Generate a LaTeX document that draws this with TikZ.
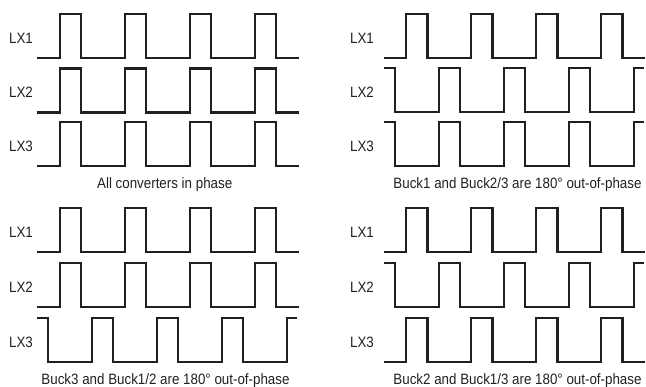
\documentclass[tikz,border=0pt]{standalone}
\usepackage{fontspec}
\setmainfont[FakeStretch=0.89]{Liberation Sans}
\definecolor{sgInk}{HTML}{231F20}

\begin{document}
\begin{tikzpicture}[
  x=1pt,y=-1pt,
  font=\fontsize{15}{17}\selectfont,
  every node/.style={
    text=sgInk,inner sep=0pt,outer sep=0pt
  },
  wave/.style={
    draw=sgInk,
    line width=2.2pt,
    line join=miter
  },
  lxname/.style={
    anchor=center
  },
  caption/.style={
    anchor=base
  },
  inphase/.pic={
    \draw[wave] (0,0)
      foreach \r in {22.5,87.5,152.5,217.5}{
        -- (\r,0) -- (\r,-44) -- (\r+21.5,-44) -- (\r+21.5,0)
      } -- (261.5,0);
  },
  antiphase/.pic={
    \draw[wave] (0,-44)
      foreach \f in {11,76,141,206}{
        -- (\f,-44) -- (\f,0) -- (\f+44,0) -- (\f+44,-44)
      } -- (259.5,-44);
  }
]
\path[use as bounding box] (0,0) rectangle (646,387);

% All converters in phase
\pic at (37.3,58.3) {inphase};
\pic at (37.3,112.5) {inphase};
\pic at (37.3,166) {inphase};

% Buck1 against Buck2/3
\pic at (383.5,58.3) {inphase};
\pic at (384,112) {antiphase};
\pic at (384,166) {antiphase};

% Buck3 against Buck1/2
\pic at (37.3,252.3) {inphase};
\pic at (37.3,307.3) {inphase};
\pic at (37.3,362) {antiphase};

% Buck2 against Buck1/3
\pic at (383.5,252.3) {inphase};
\pic at (384,307.3) {antiphase};
\pic at (383.5,362) {inphase};

% Row names
\foreach \n/\y in {
  1/38.3,
  2/92.5,
  3/146
}{
  \node[lxname] (la\n) at (21,\y) {LX\n};
  \node[lxname] (lb\n) at (362,\y) {LX\n};
}

\foreach \n/\y in {
  1/232.3,
  2/287.3,
  3/342
}{
  \node[lxname] (lc\n) at (21,\y) {LX\n};
  \node[lxname] (ld\n) at (362,\y) {LX\n};
}

% Captions
\node[caption] (capA) at (164.7,189)
  {All converters in phase};

\node[caption] (capB) at (517.5,188.5)
  {Buck1 and Buck2/3 are 180° out-of-phase};

\node[caption] (capC) at (165.5,385)
  {Buck3 and Buck1/2 are 180° out-of-phase};

\node[caption] (capD) at (517.5,384.5)
  {Buck2 and Buck1/3 are 180° out-of-phase};

\end{tikzpicture}
\end{document}
